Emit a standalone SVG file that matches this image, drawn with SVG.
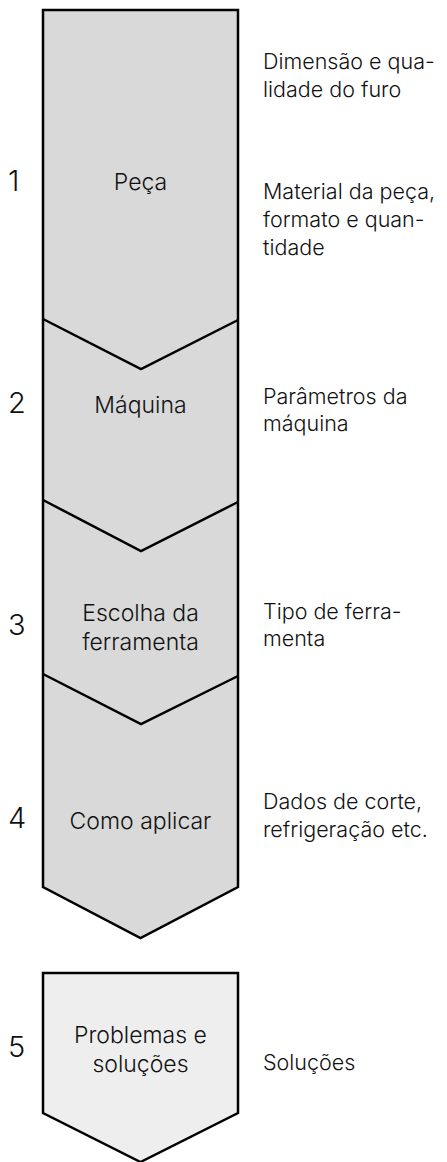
<svg xmlns="http://www.w3.org/2000/svg" width="447" height="1162" viewBox="0 0 447 1162">
<style>
.shape{stroke:#000;stroke-width:2.5;stroke-linejoin:miter}
.sep{fill:none;stroke:#000;stroke-width:2.5}
text{font-family:Inter,"Liberation Sans",sans-serif;fill:#111;font-size:21.5px;font-weight:350}
.c{text-anchor:middle;font-size:23px}
.n{font-size:29px}
</style>
<rect width="447" height="1162" fill="#fff"/>
<g id="main-shape">
<polygon class="shape" fill="#d9d9d9" points="43,10 238,10 238,887 140.5,938 43,887"/>
</g>
<g id="connectors">
<polyline class="sep" points="43,319 141,369 238,320"/>
<polyline class="sep" points="43,500 141,551 238,502"/>
<polyline class="sep" points="43,674 141,724 238,676"/>
</g>
<g id="node-1">
<text class="n" x="8" y="191">1</text>
<text class="c" x="140.5" y="190">Peça</text>
<text x="263" y="69">Dimensão e qua-</text>
<text x="263" y="97">lidade do furo</text>
<text x="263" y="199">Material da peça,</text>
<text x="263" y="227">formato e quan-</text>
<text x="263" y="255">tidade</text>
</g>
<g id="node-2">
<text class="n" x="8" y="413">2</text>
<text class="c" x="140.5" y="413">Máquina</text>
<text x="263" y="404">Parâmetros da</text>
<text x="263" y="431">máquina</text>
</g>
<g id="node-3">
<text class="n" x="8" y="635">3</text>
<text class="c" x="140.5" y="621">Escolha da</text>
<text class="c" x="140.5" y="650">ferramenta</text>
<text x="263" y="619">Tipo de ferra-</text>
<text x="263" y="646">menta</text>
</g>
<g id="node-4">
<text class="n" x="8" y="828">4</text>
<text class="c" x="140.5" y="829">Como aplicar</text>
<text x="263" y="809">Dados de corte,</text>
<text x="263" y="837">refrigeração etc.</text>
</g>
<g id="node-5">
<polygon class="shape" fill="#eeeeee" points="43,973 238,973 238,1113 140.5,1162 43,1113"/>
<text class="n" x="8" y="1057">5</text>
<text class="c" x="140.5" y="1043">Problemas e</text>
<text class="c" x="140.5" y="1072">soluções</text>
<text x="263" y="1070">Soluções</text>
</g>
</svg>
